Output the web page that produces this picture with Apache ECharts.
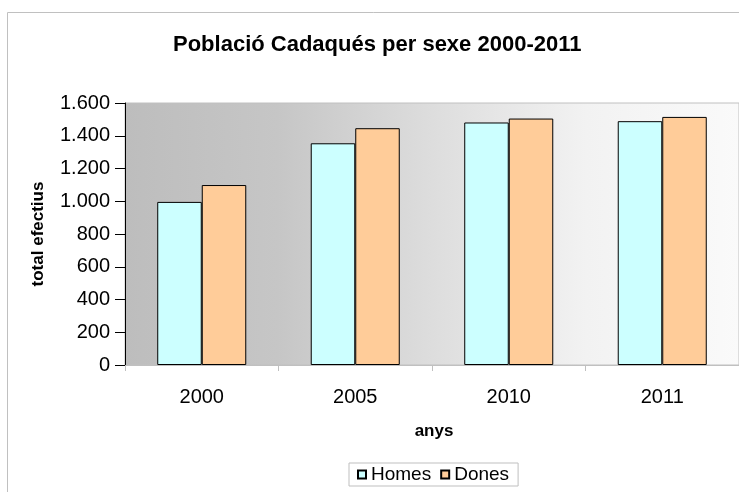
<!DOCTYPE html>
<html>
<head>
<meta charset="utf-8">
<script src="https://cdn.jsdelivr.net/npm/echarts@6/dist/echarts.min.js"></script>
<style>
  html, body { margin: 0; padding: 0; background: #ffffff; }
  #chart { width: 739px; height: 492px; }
</style>
</head>
<body>
<div id="chart"></div>
<script>
// Població de Cadaqués per sexe
const anys = ['2000', '2005', '2010', '2011'];
const homes = [996, 1354, 1481, 1489];
const dones = [1099, 1446, 1505, 1515];
const yTicks = [0, 200, 400, 600, 800, 1000, 1200, 1400, 1600];

const FONT = "'Liberation Sans', Arial, sans-serif";

function thousands(v) {
  return String(v).replace(/\B(?=(\d{3})+(?!\d))/g, '.');
}

const chart = echarts.init(document.getElementById('chart'), null, { renderer: 'canvas' });

chart.setOption({
  animation: false,
  backgroundColor: '#ffffff',
  textStyle: { fontFamily: FONT },
  title: {
    text: 'Població Cadaqués per sexe 2000-2011',
    left: 173,
    top: 34,
    padding: 0,
    textStyle: { fontFamily: FONT, fontSize: 22, fontWeight: 'bold', color: '#000000' }
  },
  legend: {
    data: ['Homes', 'Dones'],
    left: 349,
    top: 463,
    padding: [2, 9, 2, 8],
    itemWidth: 8,
    itemHeight: 8,
    itemGap: 9,
    borderColor: '#bfbfbf',
    borderWidth: 1,
    borderRadius: 0,
    icon: 'rect',
    textStyle: { fontFamily: FONT, fontSize: 19, color: '#000000' }
  },
  grid: {
    left: 125,
    right: 0,
    top: 103,
    bottom: 127,
    show: true,
    borderColor: '#c0c0c0',
    borderWidth: 1,
    backgroundColor: new echarts.graphic.LinearGradient(0, 0, 1, 0, [
      { offset: 0, color: '#bdbdbd' },
      { offset: 0.25, color: '#c6c6c6' },
      { offset: 0.5, color: '#dddddd' },
      { offset: 0.75, color: '#f2f2f2' },
      { offset: 1, color: '#fafafa' }
    ])
  },
  xAxis: {
    type: 'category',
    data: anys,
    name: 'anys',
    nameLocation: 'middle',
    nameGap: 58,
    nameTextStyle: { fontFamily: FONT, fontSize: 17, fontWeight: 'bold', color: '#000000', padding: [0, 0, 0, 4] },
    axisLine: { show: true, lineStyle: { color: '#c0c0c0', width: 1 } },
    axisTick: { show: true, length: 6, lineStyle: { color: '#c0c0c0' } },
    axisLabel: { fontFamily: FONT, fontSize: 20, color: '#000000', margin: 22 },
    splitLine: { show: false }
  },
  yAxis: {
    type: 'value',
    min: yTicks[0],
    max: yTicks[yTicks.length - 1],
    interval: yTicks[1] - yTicks[0],
    name: 'total efectius',
    nameLocation: 'middle',
    nameGap: 78,
    nameTextStyle: { fontFamily: FONT, fontSize: 17, fontWeight: 'bold', color: '#000000' },
    axisLine: { show: true, lineStyle: { color: '#000000', width: 1 } },
    axisTick: { show: true, length: 10, lineStyle: { color: '#000000' } },
    axisLabel: {
      fontFamily: FONT, fontSize: 20, color: '#000000', margin: 15,
      formatter: thousands
    },
    splitLine: { show: false }
  },
  series: [
    {
      name: 'Homes',
      type: 'bar',
      data: homes,
      barGap: '0%',
      barCategoryGap: '42%',
      itemStyle: { color: '#ccffff', borderColor: '#000000', borderWidth: 1 }
    },
    {
      name: 'Dones',
      type: 'bar',
      data: dones,
      barGap: '0%',
      barCategoryGap: '42%',
      itemStyle: { color: '#ffcc99', borderColor: '#000000', borderWidth: 1 }
    }
  ],
  graphic: [
    {
      type: 'rect',
      silent: true,
      shape: { x: 7.5, y: 12.5, width: 900, height: 700 },
      style: { fill: 'none', stroke: '#c0c0c0', lineWidth: 1 }
    }
  ]
});
</script>
</body>
</html>
